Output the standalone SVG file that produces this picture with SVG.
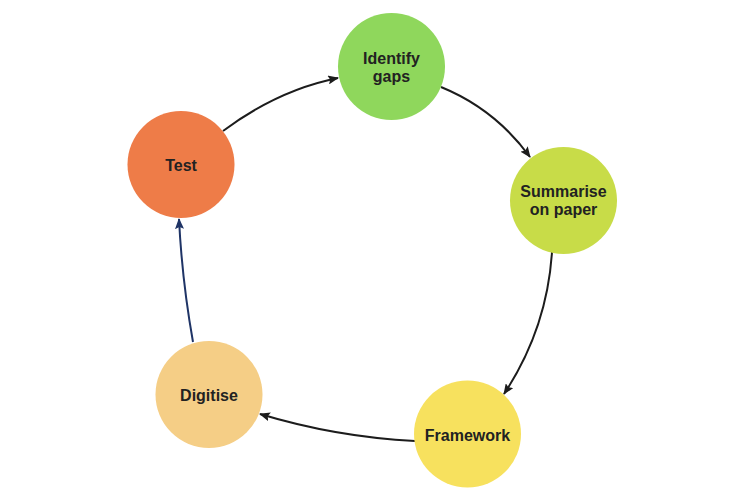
<svg xmlns="http://www.w3.org/2000/svg" width="750" height="503" viewBox="0 0 750 503">
  <style>
    .lbl { font-family: "Liberation Sans", Arial, Helvetica, sans-serif; font-weight: bold; font-size: 16px; fill: #222222; text-anchor: middle; }
    .edge { fill: none; stroke: #1c1c1c; stroke-width: 2; }
    .edge-blue { fill: none; stroke: #1f3466; stroke-width: 2; }
  </style>
  <defs>
    <marker id="arr" markerUnits="userSpaceOnUse" markerWidth="11" markerHeight="9" refX="10" refY="4.5" orient="auto">
      <path d="M0,0 L11,4.5 L0,9 L2,4.5 z" fill="#1c1c1c"/>
    </marker>
    <marker id="arrBlue" markerUnits="userSpaceOnUse" markerWidth="11" markerHeight="9" refX="10" refY="4.5" orient="auto">
      <path d="M0,0 L11,4.5 L0,9 L2,4.5 z" fill="#1f3466"/>
    </marker>
  </defs>
  <rect width="750" height="503" fill="#ffffff"/>
  <g id="connectors">
    <path class="edge" d="M223,131 Q278,90 338,78" marker-end="url(#arr)"/>
    <path class="edge" d="M441,87 Q495,109 530,157" marker-end="url(#arr)"/>
    <path class="edge" d="M552,252 Q547,329 504,394" marker-end="url(#arr)"/>
    <path class="edge" d="M415,441 Q336,437 260,414" marker-end="url(#arr)"/>
    <path class="edge-blue" d="M193,342 Q182,280 179,219" marker-end="url(#arrBlue)"/>
  </g>
  <g id="node-identify">
    <circle cx="391.5" cy="66.5" r="53.5" fill="#8fd75c"/>
    <text class="lbl" x="391.5" y="64">Identify</text>
    <text class="lbl" x="391.5" y="82">gaps</text>
  </g>
  <g id="node-summarise">
    <circle cx="563.5" cy="200.5" r="53.5" fill="#c8dc48"/>
    <text class="lbl" x="563.5" y="197">Summarise</text>
    <text class="lbl" x="563.5" y="215">on paper</text>
  </g>
  <g id="node-framework">
    <circle cx="467.5" cy="434" r="53.5" fill="#f7e15e"/>
    <text class="lbl" x="467.5" y="441">Framework</text>
  </g>
  <g id="node-digitise">
    <circle cx="209" cy="394.5" r="53.5" fill="#f5ce86"/>
    <text class="lbl" x="209" y="401">Digitise</text>
  </g>
  <g id="node-test">
    <circle cx="181" cy="164.5" r="53.5" fill="#ee7c48"/>
    <text class="lbl" x="181" y="171">Test</text>
  </g>
</svg>
